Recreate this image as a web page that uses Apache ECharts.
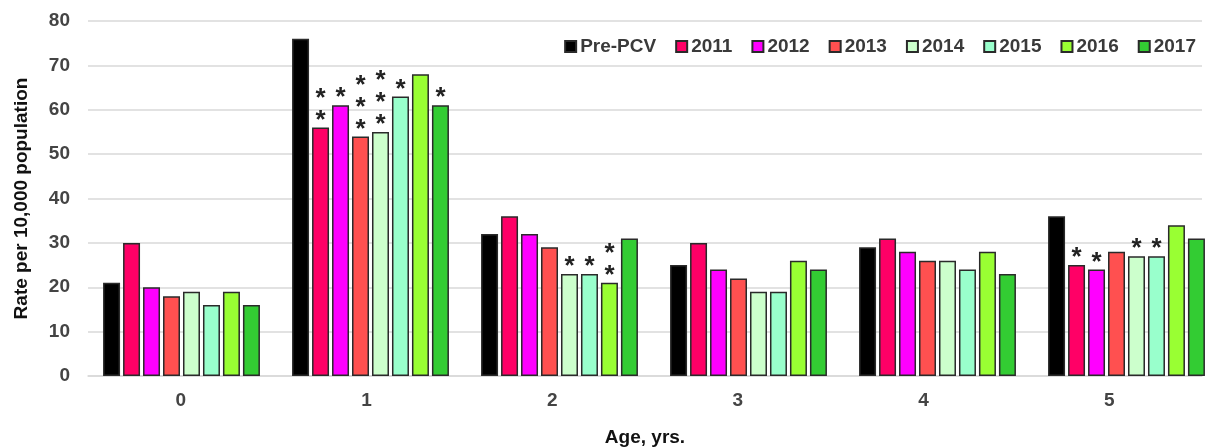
<!DOCTYPE html>
<html>
<head>
<meta charset="utf-8">
<script src="https://cdn.jsdelivr.net/npm/echarts@6/dist/echarts.min.js"></script>
<style>html,body{margin:0;padding:0;background:#fff;}#c{width:1213px;height:447px;}</style>
</head>
<body>
<div id="c"></div>
<script>
const categories = ['0', '1', '2', '3', '4', '5'];
const seriesNames = ['Pre-PCV', '2011', '2012', '2013', '2014', '2015', '2016', '2017'];
const prePCV = [21, 76, 32, 25, 29, 36];
const y2011 = [30, 56, 36, 30, 31, 25];
const y2012 = [20, 61, 32, 24, 28, 24];
const y2013 = [18, 54, 29, 22, 26, 28];
const y2014 = [19, 55, 23, 19, 26, 27];
const y2015 = [16, 63, 23, 19, 24, 27];
const y2016 = [19, 68, 21, 26, 28, 34];
const y2017 = [16, 61, 31, 24, 23, 31];
// number of significance asterisks above each bar
const starsPre = [0, 0, 0, 0, 0, 0];
const stars2011 = [0, 2, 0, 0, 0, 1];
const stars2012 = [0, 1, 0, 0, 0, 1];
const stars2013 = [0, 3, 0, 0, 0, 0];
const stars2014 = [0, 3, 1, 0, 0, 1];
const stars2015 = [0, 1, 1, 0, 0, 1];
const stars2016 = [0, 0, 2, 0, 0, 0];
const stars2017 = [0, 1, 0, 0, 0, 0];
const yTicks = [0, 10, 20, 30, 40, 50, 60, 70, 80];

const values = [prePCV, y2011, y2012, y2013, y2014, y2015, y2016, y2017];
const stars = [starsPre, stars2011, stars2012, stars2013, stars2014, stars2015, stars2016, stars2017];
const colors = ['#000000', '#FF0066', '#FF00FF', '#FF5050', '#CCFFCC', '#99FFCC', '#99FF33', '#33CC33'];

const chart = echarts.init(document.getElementById('c'));
const font = 'Liberation Sans, Arial, sans-serif';
const yMin = yTicks[0], yMax = yTicks[yTicks.length - 1];
chart.setOption({
  animation: false,
  color: colors,
  legend: {
    top: 32, right: 12,
    itemWidth: 11, itemHeight: 11, itemGap: 19,
    icon: 'rect',
    textStyle: { fontFamily: font, fontWeight: 'bold', fontSize: 19, color: '#3a3a3a', padding: [0, 0, 0, -1] },
    data: seriesNames
  },
  grid: [
    { left: 88, right: 11, top: 21, bottom: 71, outerBoundsMode: 'none', containLabel: false },
    { left: 87, width: 1134, top: 21, bottom: 71, outerBoundsMode: 'none', containLabel: false }
  ],
  xAxis: [{
    type: 'category', data: categories, gridIndex: 0,
    name: 'Age, yrs.', nameLocation: 'middle', nameGap: 52,
    nameTextStyle: { fontFamily: font, fontWeight: 'bold', fontSize: 19, color: '#111' },
    axisLine: { lineStyle: { color: '#d9d9d9', width: 1.5 } },
    axisTick: { show: false },
    axisLabel: { margin: 15, fontFamily: font, fontWeight: 'bold', fontSize: 19, color: '#444' }
  }, {
    type: 'category', data: categories, gridIndex: 1, show: false
  }],
  yAxis: [{
    type: 'value', min: yMin, max: yMax, interval: 10, gridIndex: 0,
    name: 'Rate per 10,000 population', nameLocation: 'middle', nameGap: 57,
    nameTextStyle: { fontFamily: font, fontWeight: 'bold', fontSize: 19, color: '#111' },
    axisLine: { show: false }, axisTick: { show: false },
    splitLine: { lineStyle: { color: '#d9d9d9', width: 1.5 } },
    axisLabel: { margin: 18, fontFamily: font, fontWeight: 'bold', fontSize: 19, color: '#444' }
  }, {
    type: 'value', min: yMin, max: yMax, interval: 10, gridIndex: 1, show: false
  }],
  series: seriesNames.map((n, i) => ({
    name: n, type: 'bar', data: values[i], xAxisIndex: 1, yAxisIndex: 1,
    barGap: '17.6%', barCategoryGap: '17%',
    itemStyle: { color: colors[i], borderColor: '#2a2a2a', borderWidth: 1.5 },
    label: {
      show: true, position: 'top', distance: -4,
      fontFamily: font, fontWeight: 'bold', fontSize: 26, color: '#222', lineHeight: 22,
      formatter: p => { const k = stars[i][p.dataIndex]; return k ? Array(k).fill('*').join('\n') : ''; }
    }
  }))
});
</script>
</body>
</html>
